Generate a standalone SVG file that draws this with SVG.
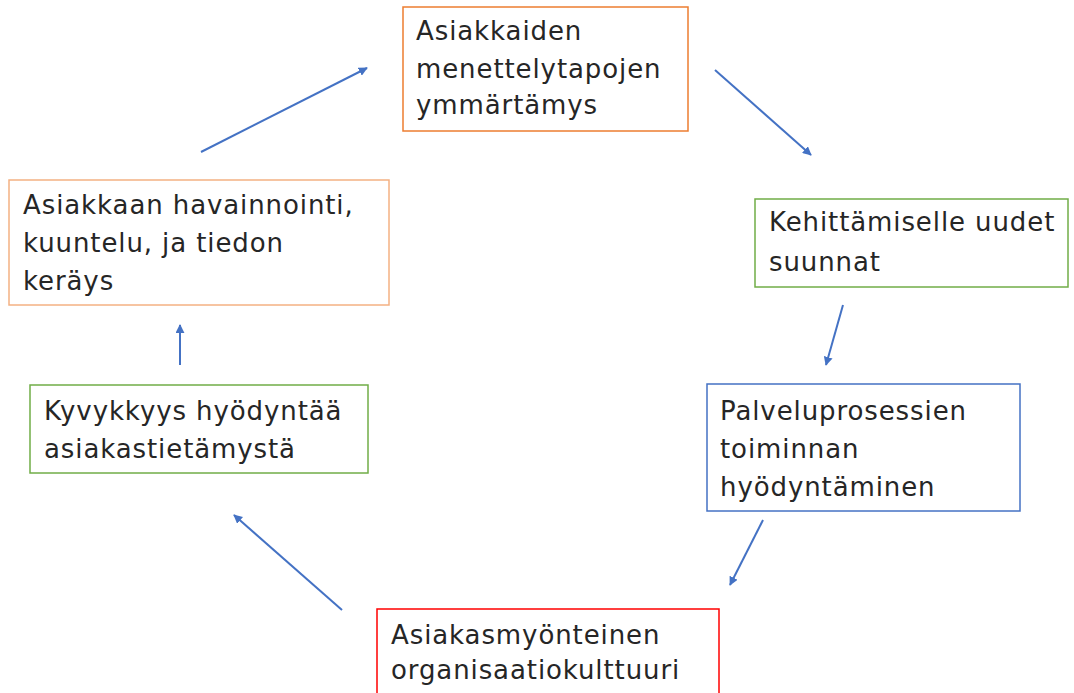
<svg xmlns="http://www.w3.org/2000/svg" width="1074" height="693" viewBox="0 0 1074 693">
<style>
.box{fill:#fff;stroke-width:1.5}
.t{font-family:"DejaVu Sans","Liberation Sans",sans-serif;font-size:26px;letter-spacing:0.9px;fill:#262626}
.c{stroke:#4472C4;stroke-width:2;fill:none;marker-end:url(#ah)}
</style>
<defs>
<marker id="ah" viewBox="0 0 10 10" refX="9" refY="5" markerWidth="9" markerHeight="9" markerUnits="userSpaceOnUse" orient="auto">
<path d="M0,0 L10,5 L0,10 Z" fill="#4472C4"/>
</marker>
</defs>
<rect width="1074" height="693" fill="#fff"/>
<g id="connectors">
<line class="c" x1="201" y1="152" x2="367" y2="68"/>
<line class="c" x1="715" y1="70" x2="811" y2="155"/>
<line class="c" x1="843" y1="305" x2="826" y2="365"/>
<line class="c" x1="180" y1="365" x2="180" y2="325"/>
<line class="c" x1="763" y1="520" x2="730" y2="585"/>
<line class="c" x1="342" y1="610" x2="234" y2="515"/>
</g>
<g id="n1">
<rect class="box" x="403" y="7" width="285" height="124" stroke="#ED7D31"/>
<text class="t"><tspan x="416" y="40">Asiakkaiden</tspan><tspan x="416" y="78">menettelytapojen</tspan><tspan x="416" y="114">ymmärtämys</tspan></text>
</g>
<g id="n2">
<rect class="box" x="9" y="180" width="380" height="125" stroke="#F4B183"/>
<text class="t"><tspan x="23" y="214">Asiakkaan havainnointi,</tspan><tspan x="23" y="252">kuuntelu, ja tiedon</tspan><tspan x="23" y="290">keräys</tspan></text>
</g>
<g id="n3">
<rect class="box" x="755" y="199" width="313" height="88" stroke="#70AD47"/>
<text class="t"><tspan x="769" y="231">Kehittämiselle uudet</tspan><tspan x="769" y="271">suunnat</tspan></text>
</g>
<g id="n4">
<rect class="box" x="707" y="384" width="313" height="127" stroke="#4472C4"/>
<text class="t"><tspan x="720" y="420">Palveluprosessien</tspan><tspan x="720" y="458">toiminnan</tspan><tspan x="720" y="496">hyödyntäminen</tspan></text>
</g>
<g id="n5">
<rect class="box" x="377" y="609" width="342" height="100" stroke="#FF0000"/>
<text class="t"><tspan x="391" y="644">Asiakasmyönteinen</tspan><tspan x="391" y="679">organisaatiokulttuuri</tspan></text>
</g>
<g id="n6">
<rect class="box" x="30" y="385" width="338" height="88" stroke="#70AD47"/>
<text class="t"><tspan x="44" y="420">Kyvykkyys hyödyntää</tspan><tspan x="44" y="458">asiakastietämystä</tspan></text>
</g>
</svg>
